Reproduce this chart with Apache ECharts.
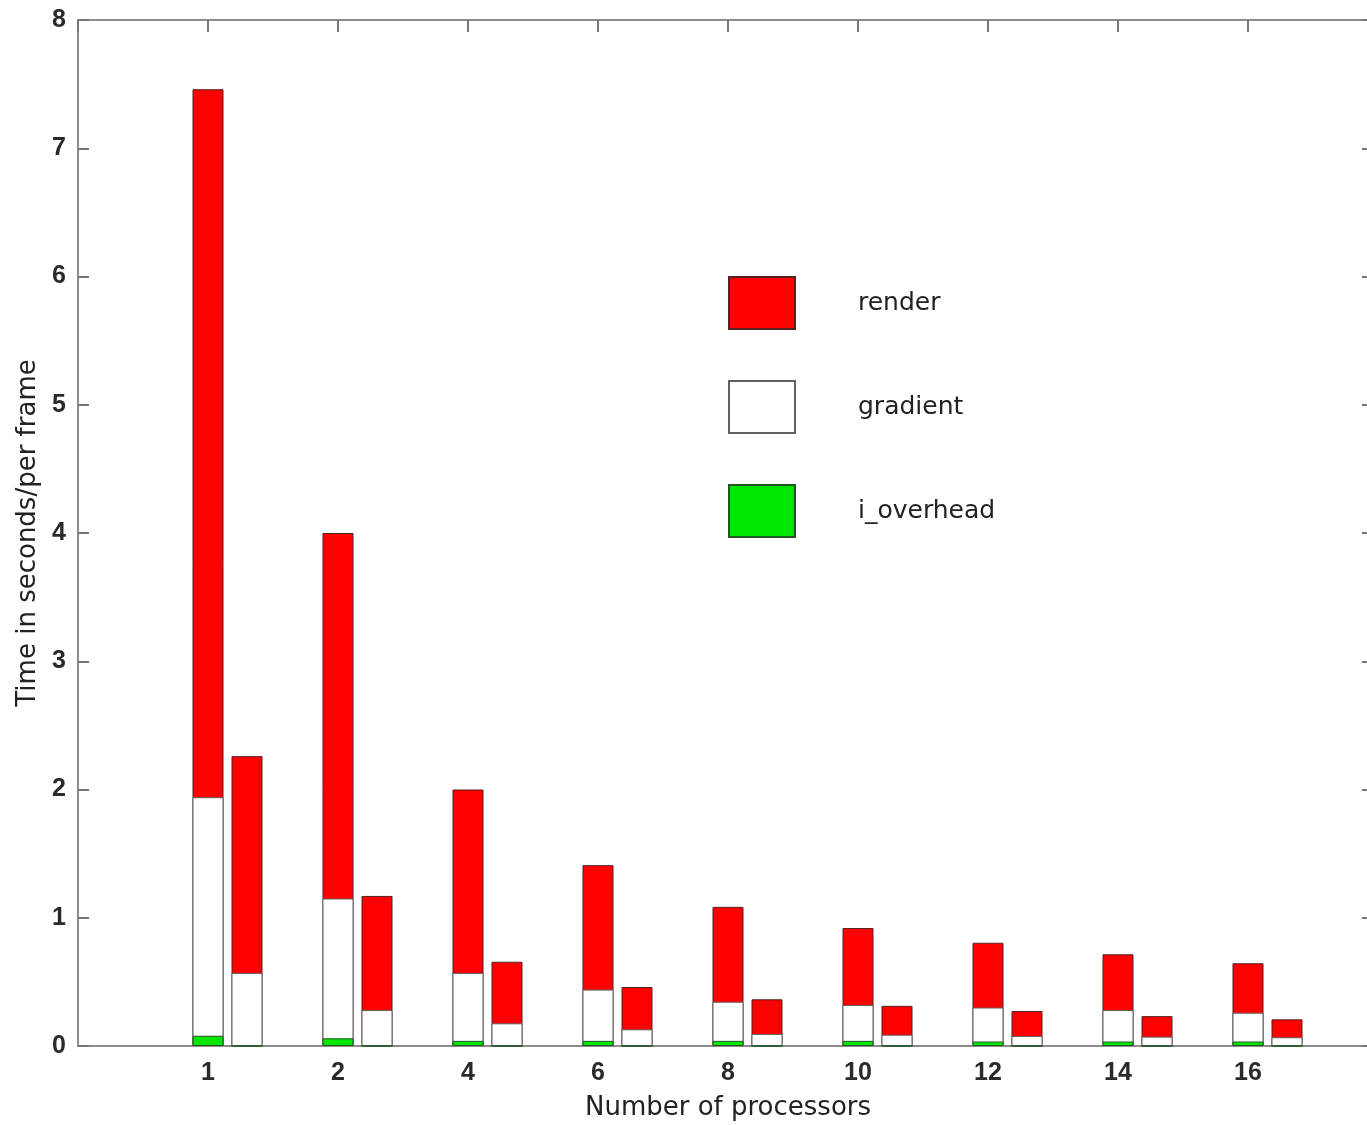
<!DOCTYPE html>
<html>
<head>
<meta charset="utf-8">
<script src="https://cdn.jsdelivr.net/npm/echarts@6/dist/echarts.min.js"></script>
<style>
html,body{margin:0;padding:0;background:#fff;}
#chart{width:1367px;height:1125px;}
</style>
</head>
<body>
<div id="chart"></div>
<script>
// Data
const categories = ['1', '2', '4', '6', '8', '10', '12', '14', '16'];
// left bar of each pair (segments from bottom to top)
const overheadA = [0.08, 0.06, 0.04, 0.04, 0.04, 0.04, 0.035, 0.035, 0.035];
const gradientA = [1.86, 1.09, 0.53, 0.40, 0.305, 0.28, 0.265, 0.245, 0.225];
const renderA   = [5.52, 2.85, 1.43, 0.97, 0.74, 0.60, 0.505, 0.435, 0.385];
// right bar of each pair
const overheadB = [0, 0, 0, 0, 0, 0, 0, 0, 0];
const gradientB = [0.57, 0.28, 0.177, 0.13, 0.094, 0.088, 0.078, 0.073, 0.068];
const renderB   = [1.69, 0.89, 0.48, 0.33, 0.27, 0.225, 0.195, 0.16, 0.14];
const yTicks = [0, 1, 2, 3, 4, 5, 6, 7, 8];

const FONT = 'DejaVu Sans';
const TICKFONT = 'Liberation Sans';
const PAIR_OFFSET = 0.3;

const colors = { render: '#ff0000', gradient: '#ffffff', i_overhead: '#00e600' };
const borders = { render: '#552222', gradient: '#606060', i_overhead: '#225522' };

// stacked segments drawn as overlapping bars of cumulative height
function cumulative(list) {
  const out = [];
  let acc = list[0].map(() => 0);
  list.forEach(arr => { acc = acc.map((a, i) => a + arr[i]); out.push(acc.slice()); });
  return out;
}
const cumA = cumulative([overheadA, gradientA, renderA]);
const cumB = cumulative([overheadB, gradientB, renderB]);

function mk(name, arr, axisIdx, off, z) {
  return {
    name: name,
    type: 'bar',
    xAxisIndex: axisIdx,
    yAxisIndex: 0,
    barWidth: 31,
    barGap: '-100%',
    z: z,
    data: arr.map((v, i) => [i + 1 + off, v]),
    itemStyle: { color: colors[name], borderColor: borders[name], borderWidth: 1 },
    emphasis: { disabled: true },
    animation: false
  };
}

const chart = echarts.init(document.getElementById('chart'));
const axisLineStyle = { color: '#8c8c8c', width: 2 };
const tickLabel = { fontFamily: TICKFONT, fontWeight: 'bold', fontSize: 25, color: '#2a2a2a' };
chart.setOption({
  animation: false,
  backgroundColor: '#fff',
  grid: { left: 78, top: 20, width: 1300, height: 1026, outerBoundsMode: 'none', containLabel: false },
  legend: {
    orient: 'vertical',
    left: 728,
    top: 276,
    padding: 0,
    icon: 'rect',
    itemWidth: 66,
    itemHeight: 52,
    itemGap: 50,
    data: ['render', 'gradient', 'i_overhead'],
    textStyle: { fontFamily: FONT, fontSize: 25, color: '#222', padding: [0, 0, 0, 58] },
    selectedMode: false
  },
  xAxis: [
    {
      type: 'value', position: 'bottom', min: 0, max: 10, interval: 1,
      axisLine: { show: true, onZero: false, lineStyle: axisLineStyle },
      axisTick: { show: false },
      splitLine: { show: false },
      axisLabel: Object.assign({}, tickLabel, {
        margin: 15,
        formatter: v => (v >= 1 && v <= categories.length) ? categories[v - 1] : ''
      }),
      name: 'Number of processors', nameLocation: 'middle', nameGap: 49,
      nameTextStyle: { fontFamily: FONT, fontSize: 26, color: '#222' }
    },
    {
      type: 'value', position: 'top', min: 0, max: 10, interval: 1,
      axisLine: { show: true, onZero: false, lineStyle: axisLineStyle },
      axisTick: { show: true, inside: true, length: 12, lineStyle: { color: '#777', width: 2 } },
      splitLine: { show: false },
      axisLabel: { show: false }
    }
  ],
  yAxis: [
    {
      type: 'value', position: 'left', min: 0, max: 8, interval: 1,
      axisLine: { show: true, onZero: false, lineStyle: axisLineStyle },
      axisTick: { show: true, inside: true, length: 11, lineStyle: { color: '#777', width: 2 } },
      splitLine: { show: false },
      axisLabel: Object.assign({}, tickLabel, { margin: 12,
        formatter: v => yTicks.indexOf(v) >= 0 ? String(v) : '' }),
      name: 'Time in seconds/per frame', nameLocation: 'middle', nameGap: 27, nameRotate: 90,
      nameTextStyle: { fontFamily: FONT, fontSize: 26, color: '#222' }
    },
    {
      type: 'value', position: 'right', min: 0, max: 8, interval: 1,
      axisLine: { show: true, onZero: false, lineStyle: axisLineStyle },
      axisTick: { show: true, inside: true, length: 16, lineStyle: { color: '#777', width: 2 } },
      splitLine: { show: false },
      axisLabel: { show: false }
    }
  ],
  series: [
    mk('render', cumA[2], 0, 0, 2),
    mk('gradient', cumA[1], 0, 0, 3),
    mk('i_overhead', cumA[0], 0, 0, 4),
    mk('render', cumB[2], 1, PAIR_OFFSET, 2),
    mk('gradient', cumB[1], 1, PAIR_OFFSET, 3),
    mk('i_overhead', cumB[0], 1, PAIR_OFFSET, 4)
  ]
});
</script>
</body>
</html>
